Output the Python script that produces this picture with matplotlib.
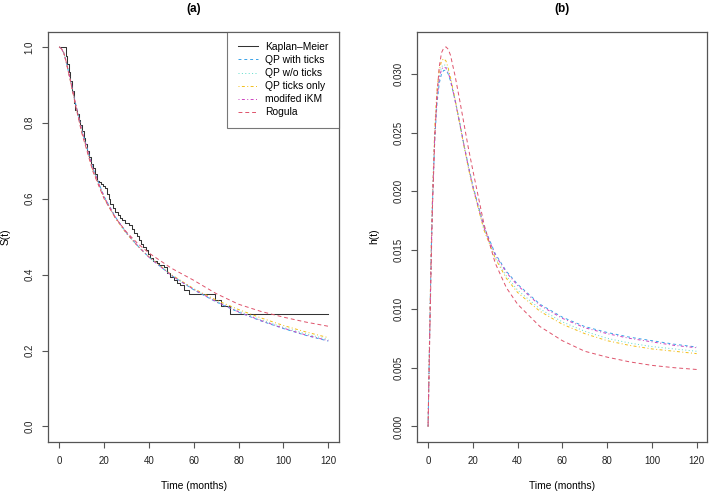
import numpy as np
import matplotlib
matplotlib.use("Agg")
import matplotlib.pyplot as plt

plt.rcParams['font.family'] = ['Liberation Sans', 'DejaVu Sans']

# ---- data ----
series_names = ["Kaplan\u2013Meier", "QP with ticks", "QP w/o ticks",
                "QP ticks only", "modifed iKM", "Rogula"]

# Kaplan-Meier step function
km_t = [0, 3, 3.5, 4.2, 5, 5.6, 6.4, 7.2, 8, 8.8, 9.4, 10.2, 11, 11.6, 12.5,
        13.3, 14.2, 15, 15.8, 16.8, 17.6, 18.5, 19.3, 20.5, 21.2, 22, 22.8,
        23.8, 25, 26.2, 27.2, 28, 29.5, 31, 32.5, 33.5, 34.5, 35.5, 36.5,
        37.5, 38.5, 39.5, 40.6, 42, 43.5, 44.5, 46.6, 48, 49.5, 51, 52.5,
        54, 55.5, 57.7, 69.6, 72.3, 76.3, 120]
km_s = [1.0, 0.975, 0.955, 0.935, 0.91, 0.885, 0.851, 0.835, 0.822, 0.808,
        0.795, 0.778, 0.76, 0.745, 0.727, 0.71, 0.692, 0.68, 0.665, 0.647,
        0.643, 0.638, 0.634, 0.628, 0.612, 0.598, 0.586, 0.576, 0.566, 0.558,
        0.55, 0.543, 0.537, 0.53, 0.52, 0.51, 0.502, 0.492, 0.482, 0.472,
        0.465, 0.455, 0.443, 0.435, 0.43, 0.425, 0.42, 0.405, 0.394, 0.385,
        0.378, 0.372, 0.36, 0.348, 0.332, 0.318, 0.295, 0.295]

# fitted survival curves
s_t = [0, 1, 2, 3, 5, 7.5, 10, 15, 20, 25, 30, 35, 40, 50, 60, 70, 80, 90,
       100, 110, 120]
s_qp_ticks = [1.0, 0.995, 0.984, 0.963, 0.912, 0.845, 0.782, 0.68, 0.606,
              0.552, 0.51, 0.476, 0.446, 0.398, 0.36, 0.328, 0.301, 0.278,
              0.258, 0.240, 0.225]
s_qp_noticks = [1.0, 0.995, 0.984, 0.962, 0.911, 0.843, 0.780, 0.677, 0.604,
                0.550, 0.509, 0.475, 0.446, 0.399, 0.361, 0.330, 0.304,
                0.281, 0.261, 0.244, 0.229]
s_qp_only = [1.0, 0.995, 0.984, 0.962, 0.91, 0.842, 0.778, 0.675, 0.602,
             0.549, 0.508, 0.475, 0.447, 0.400, 0.363, 0.333, 0.308, 0.286,
             0.266, 0.249, 0.234]
s_ikm = [1.0, 0.995, 0.984, 0.963, 0.912, 0.844, 0.781, 0.679, 0.605, 0.551,
         0.51, 0.476, 0.446, 0.398, 0.361, 0.329, 0.302, 0.279, 0.259,
         0.241, 0.226]
s_rogula = [1.0, 0.995, 0.985, 0.963, 0.91, 0.84, 0.774, 0.672, 0.600, 0.55,
            0.512, 0.482, 0.457, 0.417, 0.385, 0.35, 0.322, 0.303, 0.288,
            0.275, 0.264]

# hazard curves
h_t = [0, 0.5, 1, 1.5, 2, 3, 4, 5, 6, 7, 8, 9, 10, 12, 14, 16, 18, 20, 25,
       30, 35, 40, 50, 60, 70, 80, 90, 100, 110, 120]
h_qp_ticks = [0, 0.0055, 0.0108, 0.0155, 0.0192, 0.0245, 0.0275, 0.0292,
              0.0300, 0.0303, 0.0303, 0.0300, 0.0294, 0.0278, 0.0260, 0.0240,
              0.0222, 0.0205, 0.0170, 0.0147, 0.0132, 0.0121, 0.0104, 0.0093,
              0.0085, 0.0080, 0.0076, 0.0073, 0.0070, 0.00676]
h_qp_noticks = [0, 0.0057, 0.0110, 0.0158, 0.0195, 0.0250, 0.0282, 0.0298,
                0.0306, 0.0308, 0.0307, 0.0303, 0.0296, 0.0279, 0.0259,
                0.0239, 0.0221, 0.0204, 0.0168, 0.0144, 0.0128, 0.0116,
                0.0100, 0.0089, 0.0081, 0.0075, 0.0071, 0.0068, 0.0066,
                0.0064]
h_qp_only = [0, 0.0058, 0.0112, 0.0160, 0.0198, 0.0255, 0.0287, 0.0303,
             0.0311, 0.0313, 0.0311, 0.0305, 0.0297, 0.0279, 0.0259, 0.0239,
             0.0220, 0.0203, 0.0167, 0.0143, 0.0126, 0.0114, 0.0098, 0.0087,
             0.0079, 0.0073, 0.0069, 0.0066, 0.0064, 0.0062]
h_ikm = [0, 0.0055, 0.0108, 0.0156, 0.0194, 0.0248, 0.0279, 0.0296, 0.0304,
         0.0306, 0.0305, 0.0301, 0.0295, 0.0278, 0.0259, 0.0240, 0.0221,
         0.0204, 0.0169, 0.0146, 0.0131, 0.0120, 0.0103, 0.0092, 0.0084,
         0.0079, 0.0075, 0.0072, 0.0069, 0.0067]
h_rogula = [0, 0.0050, 0.0100, 0.0147, 0.0188, 0.0245, 0.0283, 0.0306,
            0.0318, 0.0322, 0.0323, 0.0321, 0.0316, 0.0299, 0.0279, 0.0258,
            0.0237, 0.0218, 0.0172, 0.0139, 0.0118, 0.0104, 0.0085, 0.0073,
            0.0064, 0.0059, 0.0055, 0.0052, 0.0050, 0.00485]

x_ticks = [0, 20, 40, 60, 80, 100, 120]
s_ticks = [0.0, 0.2, 0.4, 0.6, 0.8, 1.0]
h_ticks = [0.000, 0.005, 0.010, 0.015, 0.020, 0.025, 0.030]

# ---- styles ----
styles = {
    "QP with ticks": dict(color="#3AA3E8", ls=(0, (3, 3))),
    "QP w/o ticks": dict(color="#5DDCCB", ls=(0, (1, 2.5))),
    "QP ticks only": dict(color="#F2BE1A", ls=(0, (1, 2.5, 3, 2.5))),
    "modifed iKM": dict(color="#CC44C0", ls=(0, (1, 2.5, 3, 2.5))),
    "Rogula": dict(color="#DF536B", ls=(0, (4, 3))),
}
LW = 0.7
GRAY = "#555555"


def style_axes(ax, yticks, yfmt):
    for sp in ax.spines.values():
        sp.set_color(GRAY)
        sp.set_linewidth(0.9)
    ax.set_xticks(x_ticks)
    ax.set_yticks(yticks)
    ax.set_yticklabels([yfmt.format(v) for v in yticks], rotation=90,
                       va="center")
    ax.tick_params(direction="out", length=4, width=0.8, color=GRAY,
                   labelsize=7.0, pad=6, labelcolor="#222222")
    ax.set_xlabel("Time (months)", fontsize=7.4, labelpad=11)


fig = plt.figure(figsize=(7.09, 4.92), dpi=100)
ax1 = fig.add_axes([0.0684, 0.1023, 0.4098, 0.8333])
ax2 = fig.add_axes([0.5886, 0.1023, 0.4092, 0.8333])

# panel (a): survival
ax1.plot(km_t, km_s, drawstyle="steps-post", color="#333333", lw=0.75,
         label=series_names[0])
s_curves = [s_qp_ticks, s_qp_noticks, s_qp_only, s_ikm, s_rogula]
for name, ys in zip(series_names[1:], s_curves):
    ax1.plot(s_t, ys, lw=LW, label=name, **styles[name])
ax1.set_xlim(-4.8, 124.8)
ax1.set_ylim(-0.04, 1.04)
style_axes(ax1, s_ticks, "{:.1f}")
ax1.set_ylabel("S(t)", fontsize=7.4, labelpad=10)
leg = ax1.legend(loc="upper right", fontsize=7.4, frameon=True,
                 fancybox=False, edgecolor=GRAY, borderaxespad=0,
                 handlelength=2.0, handletextpad=0.7, labelspacing=0.3,
                 borderpad=1.0)
leg.get_frame().set_linewidth(0.8)

# panel (b): hazard
h_curves = [h_qp_ticks, h_qp_noticks, h_qp_only, h_ikm, h_rogula]
for name, ys in zip(series_names[1:], h_curves):
    ax2.plot(h_t, ys, lw=LW, label=name, **styles[name])
hmax = max(max(c) for c in h_curves)
ax2.set_xlim(-4.8, 124.8)
ax2.set_ylim(-0.04 * hmax, 1.04 * hmax)
style_axes(ax2, h_ticks, "{:.3f}")
ax2.set_ylabel("h(t)", fontsize=7.4, labelpad=10)

fig.text(0.2733, 0.982, "(a)", ha="center", va="center", fontsize=8.5,
         fontweight="bold")
fig.text(0.7932, 0.982, "(b)", ha="center", va="center", fontsize=8.5,
         fontweight="bold")

fig.savefig("out.png", dpi=100)
